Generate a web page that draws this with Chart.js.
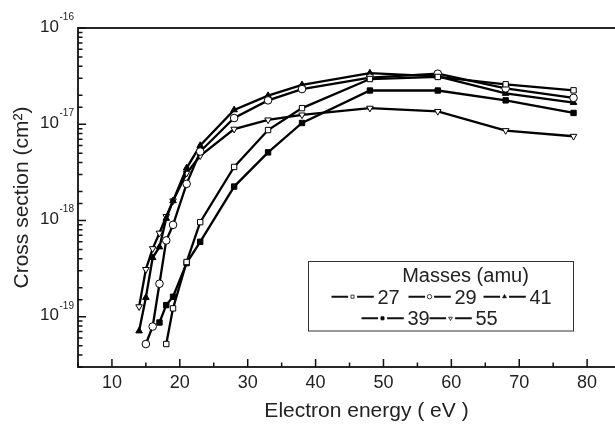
<!DOCTYPE html>
<html>
<head>
<meta charset="utf-8">
<script src="https://cdn.jsdelivr.net/npm/chart.js@4.4.0/dist/chart.umd.min.js"></script>
<style>
    html, body { margin: 0; padding: 0; background: #fff; overflow: hidden; }
    #wrap { position: absolute; left: 0; top: 0; width: 660px; height: 425px; }
</style>
</head>
<body>
<div id="wrap"><canvas id="crossSectionChart" width="660" height="425"></canvas></div>
<script>
// Electron impact cross sections per fragment mass (cm^2 vs eV)
const masses = ['27', '29', '41', '39', '55'];

const energy27 = [18, 19, 21, 23, 28, 33, 38, 48, 58, 68, 78];
const sigma27 = [5.2e-20, 1.22e-19, 3.7e-19, 9.6e-19, 3.6e-18, 8.7e-18, 1.47e-17, 2.95e-17, 3.1e-17, 2.6e-17, 2.25e-17];

const energy29 = [15, 16, 17, 18, 19, 21, 23, 28, 33, 38, 48, 58, 68, 78];
const sigma29 = [5.2e-20, 7.9e-20, 2.2e-19, 6.2e-19, 9.0e-19, 2.4e-18, 5.2e-18, 1.16e-17, 1.77e-17, 2.32e-17, 3.05e-17, 3.35e-17, 2.36e-17, 1.88e-17];

const energy41 = [14, 15, 16, 17, 18, 19, 21, 23, 28, 33, 38, 48, 58, 68, 78];
const sigma41 = [7.1e-20, 1.58e-19, 4.1e-19, 5.3e-19, 1.05e-18, 1.6e-18, 3.5e-18, 6.0e-18, 1.41e-17, 1.98e-17, 2.57e-17, 3.4e-17, 3.15e-17, 2.09e-17, 1.68e-17];

const energy39 = [17, 18, 19, 21, 23, 28, 33, 38, 48, 58, 68, 78];
const sigma39 = [8.7e-20, 1.32e-19, 1.61e-19, 3.6e-19, 6.0e-19, 2.25e-18, 5.1e-18, 1.03e-17, 2.24e-17, 2.24e-17, 1.77e-17, 1.31e-17];

const energy55 = [14, 15, 16, 17, 18, 19, 21, 23, 28, 33, 38, 48, 58, 68, 78];
const sigma55 = [1.27e-19, 3.1e-19, 5.1e-19, 7.4e-19, 1.1e-18, 1.6e-18, 3.1e-18, 4.7e-18, 8.9e-18, 1.11e-17, 1.25e-17, 1.47e-17, 1.36e-17, 8.6e-18, 7.5e-18];

const yDecades = [-19, -18, -17, -16];

const zip = (xs, ys) => xs.map((x, i) => ({ x: x, y: ys[i] }));

const series = [
    { data: zip(energy27, sigma27), style: 'rect', fill: '#fff', rot: 0 },
    { data: zip(energy29, sigma29), style: 'circle', fill: '#fff', rot: 0 },
    { data: zip(energy41, sigma41), style: 'triangle', fill: '#000', rot: 0 },
    { data: zip(energy39, sigma39), style: 'rect', fill: '#000', rot: 0 },
    { data: zip(energy55, sigma55), style: 'triangle', fill: '#fff', rot: 180 }
];

// legend rows: [series index, row, x offset inside box]
const legendSlots = [[0, 0, 23], [1, 0, 100], [2, 0, 175], [3, 1, 53], [4, 1, 121]];

const fontFamily = '"Liberation Sans", Arial, Helvetica, sans-serif';

const framePlugin = {
    id: 'frame',
    afterDraw(chart) {
        const { ctx, chartArea: a, scales: { x, y } } = chart;
        ctx.save();
        ctx.strokeStyle = '#111';
        ctx.lineWidth = 1.8;
        ctx.strokeRect(a.left, a.top, a.right - a.left, a.bottom - a.top);

        // inward tick marks
        ctx.lineWidth = 1.5;
        ctx.beginPath();
        x.ticks.forEach(t => {
            const px = x.getPixelForValue(t.value);
            const len = t.value % 10 === 0 ? 8 : 4.5;
            ctx.moveTo(px, a.bottom);
            ctx.lineTo(px, a.bottom - len);
        });
        y.ticks.forEach(t => {
            const py = y.getPixelForValue(t.value);
            const lg = Math.log10(t.value);
            const len = Math.abs(lg - Math.round(lg)) < 1e-6 ? 8 : 4.5;
            ctx.moveTo(a.left, py);
            ctx.lineTo(a.left + len, py);
        });
        ctx.stroke();

        // decade labels 10^n
        ctx.fillStyle = '#222';
        yDecades.forEach(e => {
            const py = y.getPixelForValue(Math.pow(10, e));
            ctx.font = '17px ' + fontFamily;
            ctx.textAlign = 'right';
            ctx.textBaseline = 'alphabetic';
            ctx.fillText('10', a.left - 19, py + 3.5);
            ctx.font = '10px ' + fontFamily;
            ctx.textAlign = 'left';
            ctx.fillText(String(e), a.left - 18.5, py - 8);
        });

        // legend box
        const bx = 308.5, by = 261.5, bw = 265, bh = 69.5;
        ctx.fillStyle = '#fff';
        ctx.fillRect(bx, by, bw, bh);
        ctx.lineWidth = 1;
        ctx.strokeStyle = '#333';
        ctx.strokeRect(bx, by, bw, bh);
        ctx.fillStyle = '#222';
        ctx.font = '20px ' + fontFamily;
        ctx.textAlign = 'center';
        ctx.fillText('Masses (amu)', bx + 157, by + 20.5);
        legendSlots.forEach(([i, row, off]) => {
            const sx = bx + off;
            const sy = by + 35.2 + row * 21.6;
            ctx.strokeStyle = '#111';
            ctx.lineWidth = 2;
            ctx.beginPath();
            ctx.moveTo(sx, sy); ctx.lineTo(sx + 16.6, sy);
            ctx.moveTo(sx + 25.6, sy); ctx.lineTo(sx + 42.3, sy);
            ctx.stroke();
            ctx.fillStyle = series[i].fill;
            ctx.lineWidth = 0.8;
            Chart.helpers.drawPoint(ctx, {
                pointStyle: series[i].style, rotation: series[i].rot, radius: 2.2, borderWidth: 0.8
            }, sx + 21, sy);
            ctx.fillStyle = '#222';
            ctx.font = '20px ' + fontFamily;
            ctx.textAlign = 'left';
            ctx.fillText(masses[i], sx + 46, sy + 7);
        });
        ctx.restore();
    }
};

new Chart(document.getElementById('crossSectionChart'), {
    type: 'line',
    data: {
        datasets: series.map((s, i) => ({
            label: masses[i],
            data: s.data,
            borderColor: '#000',
            borderWidth: 2.3,
            tension: 0,
            fill: false,
            pointStyle: s.style,
            rotation: s.rot,
            pointRadius: 3.8,
            pointBorderWidth: 1,
            pointBorderColor: '#000',
            pointBackgroundColor: s.fill
        }))
    },
    options: {
        responsive: false,
        animation: false,
        layout: { padding: { left: 0, top: 28, right: 2, bottom: 0 } },
        plugins: {
            legend: { display: false },
            tooltip: { enabled: false }
        },
        scales: {
            x: {
                type: 'linear',
                min: 5,
                max: 90,
                grid: { display: false, drawTicks: false },
                border: { display: false },
                ticks: {
                    stepSize: 5,
                    autoSkip: false,
                    maxRotation: 0,
                    padding: 5,
                    color: '#222',
                    font: { family: fontFamily, size: 18 },
                    callback: v => (v % 10 === 0 && v <= 80 ? String(v) : '')
                },
                title: {
                    display: true,
                    text: 'Electron energy ( eV )',
                    color: '#222',
                    font: { family: fontFamily, size: 21 },
                    padding: { top: 0, bottom: 1 }
                },
                afterFit: s => { s.height = 58; }
            },
            y: {
                type: 'logarithmic',
                min: 3e-20,
                max: 1e-16,
                grid: { display: false, drawTicks: false },
                border: { display: false },
                ticks: { display: false },
                title: {
                    display: true,
                    text: 'Cross section (cm²)',
                    color: '#222',
                    font: { family: fontFamily, size: 21 },
                    padding: { top: 10, bottom: 0 }
                },
                afterFit: s => { s.width = 78; }
            }
        }
    },
    plugins: [framePlugin]
});
</script>
</body>
</html>
